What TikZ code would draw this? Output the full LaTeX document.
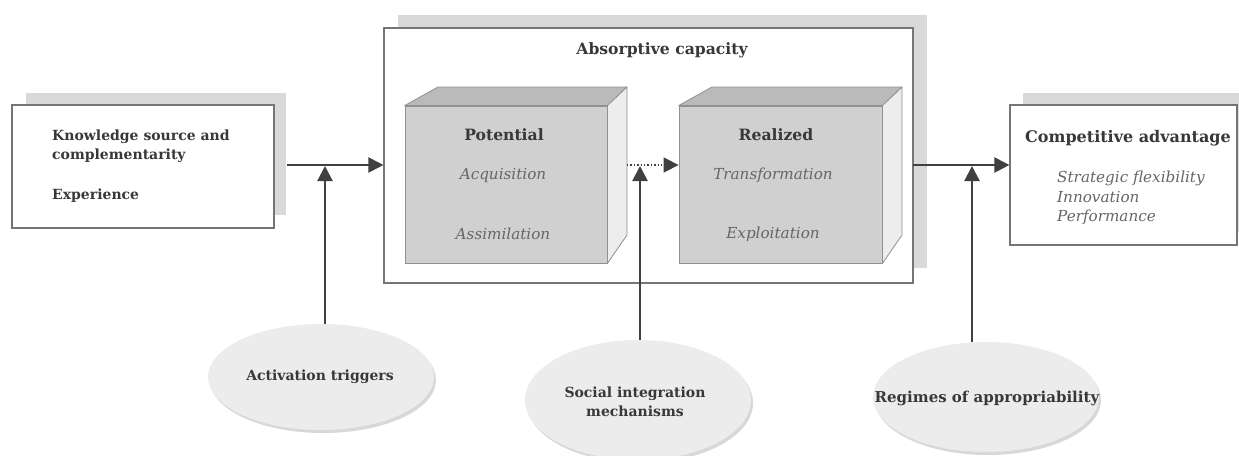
\documentclass[tikz,border=0pt]{standalone}
\usepackage{fontspec}
\setmainfont{DejaVu Serif}
\usetikzlibrary{arrows.meta,shapes.geometric,shadows}
\definecolor{txt}{HTML}{383838}
\definecolor{itxt}{HTML}{666666}
\definecolor{shd}{HTML}{D9D9D9}
\definecolor{border}{HTML}{757575}
\definecolor{front}{HTML}{D0D0D0}
\definecolor{topf}{HTML}{BABABA}
\definecolor{side}{HTML}{EDEDED}
\definecolor{ell}{HTML}{ECECEC}
\definecolor{arrc}{HTML}{404040}
\tikzset{
  box/.style={draw=border, line width=1.2pt, fill=white, inner sep=0pt},
  cubefront/.style={draw=border!80, line width=0.8pt, fill=front, inner sep=0pt},
  cubeface/.style={draw=border!80, line width=0.8pt, line join=round},
  lab/.style={font=\bfseries\fontsize{14}{19}\selectfont, text=txt, inner sep=0pt},
  titlelab/.style={font=\bfseries\fontsize{15.6}{19}\selectfont, text=txt, inner sep=0pt},
  biglab/.style={font=\bfseries\fontsize{16}{19}\selectfont, text=txt, inner sep=0pt},
  itl/.style={font=\itshape\fontsize{15.2}{19.7}\selectfont, text=itxt, inner sep=0pt},
  ellip/.style={ellipse, fill=ell, inner sep=0pt, minimum width=226pt,
    drop shadow={shadow xshift=2pt, shadow yshift=-3pt, fill=black!30, opacity=0.5}},
  arr/.style={draw=arrc, line width=2.2pt, -{Triangle[length=15pt,width=15pt]}},
  dotarr/.style={draw=arrc, line width=1.4pt, dotted, -{Triangle[length=15pt,width=15pt]}},
}
\begin{document}
\begin{tikzpicture}[x=1pt,y=-1pt]
\useasboundingbox (0,0) rectangle (1239,455);
\clip (0,0) rectangle (1239,455);
\fill[white] (0,0) rectangle (1239,455);
% shadows of boxes
\fill[shd] (26,93) rectangle (286,215);
\fill[shd] (398,15) rectangle (927,268);
\fill[shd] (1023,93) rectangle (1250,232);
% left box
\node[box, minimum width=262pt, minimum height=123pt] (ks) at (143,166.5) {};
\node[lab, anchor=west, align=left] (ks1) at (52,146.5) {Knowledge source and\\complementarity};
\node[lab, anchor=west] (ks2) at (52,196) {Experience};
% main box
\node[box, minimum width=529pt, minimum height=255pt] (ac) at (648.5,155.5) {};
\node[titlelab] (actitle) at (662,50) {Absorptive capacity};
% cube 1
\node[cubefront, minimum width=202pt, minimum height=157pt] (pot) at (506,184.5) {};
\filldraw[cubeface, fill=topf] (pot.north west) -- (438,87) -- (627,87) -- (pot.north east) -- cycle;
\filldraw[cubeface, fill=side] (pot.north east) -- (627,87) -- (627,235) -- (pot.south east) -- cycle;
\node[titlelab] (potl) at (504,135) {Potential};
\node[itl] (acq) at (503,175) {Acquisition};
\node[itl] (ass) at (503,234) {Assimilation};
% cube 2
\node[cubefront, minimum width=203pt, minimum height=157pt] (rea) at (780.5,184.5) {};
\filldraw[cubeface, fill=topf] (rea.north west) -- (712,87) -- (902,87) -- (rea.north east) -- cycle;
\filldraw[cubeface, fill=side] (rea.north east) -- (902,87) -- (902,235) -- (rea.south east) -- cycle;
\node[titlelab] (real) at (776,135) {Realized};
\node[itl] (tra) at (773,175) {Transformation};
\node[itl] (exp) at (773,234) {Exploitation};
% right box
\node[box, minimum width=227pt, minimum height=140pt] (cmp) at (1123.5,175) {};
\node[biglab] (cmpl) at (1128,138) {Competitive advantage};
\node[itl, anchor=west, align=left] (cmpi) at (1057,198) {Strategic flexibility\\Innovation\\Performance};
% ellipses
\node[ellip, minimum height=106pt] (trig) at (321,377) {};
\node[lab] (trigl) at (320,377) {Activation triggers};
\node[ellip, minimum height=120pt] (soc) at (638,400) {};
\node[lab, align=center] (socl) at (635,401.5) {Social integration\\mechanisms};
\node[ellip, minimum height=110pt] (appr) at (986,397) {};
\node[lab, font=\bfseries\fontsize{15}{19}\selectfont] (apprl) at (987,398) {Regimes of appropriability};
% junctions
\coordinate (a1) at (287,165);
\coordinate (j1) at (325,166);
\coordinate (d1) at (627,165);
\coordinate (j2) at (640,166);
\coordinate (a3) at (913,165);
\coordinate (j3) at (972,166);
% connectors
\draw[arr] (a1) -- (a1 -| ac.west);
\draw[arr] (j1 |- trig.north) -- (j1);
\draw[dotarr] (d1) -- (d1 -| rea.west);
\draw[arr] (j2 |- soc.north) -- (j2);
\draw[arr] (a3) -- (a3 -| cmp.west);
\draw[arr] (j3 |- appr.north) -- (j3);
\end{tikzpicture}
\end{document}
